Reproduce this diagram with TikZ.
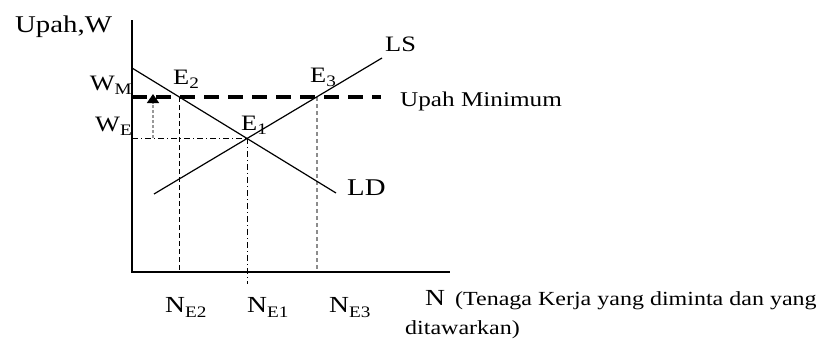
\documentclass[tikz,border=0pt]{standalone}
\usepackage{fontspec}
\setmainfont{Liberation Serif}[FakeStretch=1.2]
\usetikzlibrary{arrows.meta}
\newcommand\fsz[1]{\fontsize{#1}{#1}\selectfont}
\newcommand\sbs[1]{\raisebox{-0.22em}{\fsz{16}#1}}
\begin{document}
\begin{tikzpicture}[x=1pt,y=-1pt,
  lbl/.style={inner sep=0pt, anchor=base west, font=\fsz{22}},
  lblr/.style={inner sep=0pt, anchor=base east, font=\fsz{22}},
  axisline/.style={line width=1.6pt, black},
  curve/.style={line width=1.2pt, black},
  minwage/.style={line width=3.4pt, black, dash pattern=on 15pt off 9pt},
  vdash/.style={line width=1.2pt, black, dash pattern=on 5pt off 3pt},
  dashdot/.style={line width=0.9pt, black, dash pattern=on 6pt off 3pt on 1pt off 3pt},
  graydots/.style={line width=2.2pt, black!45, dash pattern=on 4pt off 3pt},
  arrowdots/.style={line width=1.6pt, black!40, dash pattern=on 3pt off 2pt}
]
\useasboundingbox (0,0) rectangle (838,340);
% axes
\coordinate (ytop) at (132,20);
\coordinate (orig) at (132,272);
\coordinate (xend) at (450,272);
\draw[axisline] (ytop) -- (orig) -- (xend);
% curves
\coordinate (ldA) at (132,68);
\coordinate (ldB) at (336,193);
\coordinate (lsA) at (154,194);
\coordinate (lsB) at (382,58);
\coordinate (wmA) at (132,97);
\coordinate (wmB) at (381,97);
\coordinate (E1) at (intersection of ldA--ldB and lsA--lsB);
\coordinate (E2) at (intersection of ldA--ldB and wmA--wmB);
\coordinate (E3) at (intersection of lsA--lsB and wmA--wmB);
\coordinate (WE) at (orig |- E1);
\coordinate (E1b) at ([yshift=-12pt]E1 |- orig);
% guide lines
\draw[dashdot] (WE) -- (E1);
\draw[dashdot] (E1) -- (E1b);
\draw[vdash] (E2) -- (E2 |- orig);
\draw[graydots] (E3) -- (E3 |- orig);
\coordinate (arS) at (153,138);
\coordinate (arE) at (153,94);
\draw[arrowdots, -{Triangle[width=12pt,length=9pt,fill=black,color=black,sep=0pt]}] (arS) -- (arE);
\draw[minwage] (wmA) -- (wmB);
\draw[curve] (ldA) -- (ldB);
\draw[curve] (lsA) -- (lsB);
% labels
\node[lbl, font=\fsz{24}] (yl) at (15,32) {Upah,W};
\node[lblr] (wm) at (132,90) {W\sbs{M}};
\node[lblr] (we) at (132,131) {W\sbs{E}};
\node[lbl] (e2) at (173,84) {E\sbs{2}};
\node[lbl] (e3) at (310,82) {E\sbs{3}};
\node[lbl] (e1) at (241,130) {E\sbs{1}};
\node[lbl] (ls) at (385,51) {LS};
\node[lbl, font=\fsz{24}] (ld) at (347,195) {LD};
\node[lbl, font=\fsz{21}] (um) at (400,106) {Upah Minimum};
\node[lbl, font=\fsz{23}] (n2) at (165,312) {N\sbs{E2}};
\node[lbl, font=\fsz{23}] (n1) at (247,312) {N\sbs{E1}};
\node[lbl, font=\fsz{23}] (n3) at (329,312) {N\sbs{E3}};
\node[lbl, font=\fsz{23}] (nx) at (425,305) {N\hspace{10pt}{\fsz{20}(Tenaga Kerja yang diminta dan yang}};
\node[lbl, font=\fsz{20}] (nx2) at (405,334) {ditawarkan)};
\end{tikzpicture}
\end{document}
